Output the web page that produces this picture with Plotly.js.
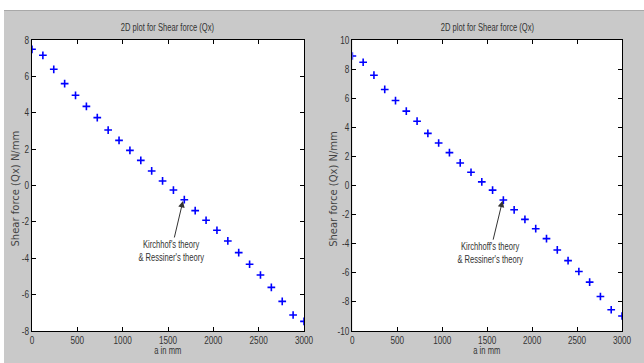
<!DOCTYPE html>
<html>
<head>
<meta charset="utf-8">
<script src="https://cdn.plot.ly/plotly-3.0.1.min.js"></script>
<style>
  html, body { margin:0; padding:0; background:#ffffff; width:644px; height:363px; overflow:hidden; }
  #frame { position:absolute; left:4px; top:10px; width:640px; height:353px; border-top:1px solid #a8a8a8; background:#c9c9c9; }
  #chart { position:absolute; left:0; top:0; width:640px; height:352px; }
</style>
</head>
<body>
<div id="frame"><div id="chart"></div></div>
<script>
// Data
const aMM = [0,120,240,360,480,600,720,840,960,1080,1200,1320,1440,1560,1680,1800,1920,2040,2160,2280,2400,2520,2640,2760,2880,3000];
const qxLeft = [7.49,7.16,6.39,5.60,4.96,4.35,3.73,3.05,2.48,1.93,1.38,0.80,0.25,-0.25,-0.78,-1.38,-1.91,-2.46,-3.05,-3.69,-4.33,-4.92,-5.60,-6.37,-7.12,-7.47];
const qxRight = [8.90,8.47,7.58,6.60,5.84,5.11,4.42,3.58,2.92,2.26,1.55,0.91,0.25,-0.32,-1.00,-1.67,-2.33,-2.97,-3.65,-4.43,-5.16,-5.91,-6.64,-7.63,-8.54,-8.97];
const xTicks = [0,500,1000,1500,2000,2500,3000];
const yTicksLeft = [-8,-6,-4,-2,0,2,4,6,8];
const yTicksRight = [-10,-8,-6,-4,-2,0,2,4,6,8,10];
const plotTitle = "2D plot for Shear force (Qx)";
const xTitle = "a in mm";
const yTitle = "Shear force (Qx) N/mm";
const noteLeft = "Kirchhof's theory<br>& Ressiner's theory";
const noteRight = "Kirchhoff's theory<br>& Ressiner's theory";

const base = "'Liberation Sans', Arial, sans-serif";
const wide = "'DejaVu Sans', 'Liberation Sans', sans-serif";
const txtColor = '#333';

const marker = {symbol:'cross-thin', size:5.5, color:'#0000ff', line:{width:1.6, color:'#0000ff'}};

const traces = [
  {x:aMM, y:qxLeft, type:'scatter', mode:'markers', marker:marker, xaxis:'x', yaxis:'y', hoverinfo:'skip'},
  {x:aMM, y:qxRight, type:'scatter', mode:'markers', marker:marker, xaxis:'x2', yaxis:'y2', hoverinfo:'skip'}
];

function xax(domain, anchor){
  return {domain:domain, anchor:anchor, range:[0,3000], tickvals:xTicks, ticktext:xTicks.map(String),
    showgrid:false, zeroline:false, showline:true, linecolor:'#000', linewidth:1, mirror:'ticks',
    ticks:'inside', ticklen:4, tickcolor:'#000',
    tickfont:{family:base, size:10, color:txtColor}};
}
function yax(range, ticks, anchor){
  return {domain:[0,1], anchor:anchor, range:range, tickvals:ticks, ticktext:ticks.map(String),
    showgrid:false, zeroline:false, showline:true, linecolor:'#000', linewidth:1, mirror:'ticks',
    ticks:'inside', ticklen:4, tickcolor:'#000',
    tickfont:{family:base, size:10, color:txtColor}};
}

const annFont = {family:base, size:10, color:txtColor};
const layout = {
  width:640, height:352,
  margin:{l:28, r:22, t:29, b:32},
  paper_bgcolor:'#c9c9c9', plot_bgcolor:'#ffffff',
  showlegend:false,
  font:{family:base, size:10, color:txtColor},
  xaxis: xax([0,0.461],'y'),
  yaxis: yax([-8,8], yTicksLeft, 'x'),
  xaxis2: xax([0.543,1],'y2'),
  yaxis2: yax([-10,10], yTicksRight, 'x2'),
  annotations:[
    {xref:'x domain', yref:'paper', x:0.5, y:1, yshift:5, yanchor:'bottom', showarrow:false, text:plotTitle, font:annFont},
    {xref:'x2 domain', yref:'paper', x:0.5, y:1, yshift:5, yanchor:'bottom', showarrow:false, text:plotTitle, font:annFont},
    {xref:'x domain', yref:'y domain', x:0.5, y:0, yshift:-19, yanchor:'middle', showarrow:false, text:xTitle, font:annFont},
    {xref:'x2 domain', yref:'y2 domain', x:0.5, y:0, yshift:-19, yanchor:'middle', showarrow:false, text:xTitle, font:annFont},
    {xref:'x domain', yref:'y domain', x:0, xshift:-17, y:0.5, yshift:-3, xanchor:'center', yanchor:'middle', textangle:-90, showarrow:false, text:yTitle, font:{family:wide, size:10, color:'#444'}},
    {xref:'x2 domain', yref:'y2 domain', x:0, xshift:-19, y:0.5, yshift:-3, xanchor:'center', yanchor:'middle', textangle:-90, showarrow:false, text:yTitle, font:{family:wide, size:10, color:'#444'}},
    {xref:'x', yref:'y', axref:'x', ayref:'y', x:1665, y:-0.85, ax:1535, ay:-3.6, text:noteLeft, font:annFont,
      showarrow:true, arrowhead:2, arrowsize:1.3, arrowwidth:1, arrowcolor:'#333'},
    {xref:'x2', yref:'y2', axref:'x2', ayref:'y2', x:1671, y:-1.05, ax:1530, ay:-4.65, text:noteRight, font:annFont,
      showarrow:true, arrowhead:2, arrowsize:1.3, arrowwidth:1, arrowcolor:'#333'}
  ]
};

// Horizontally condense text (reference uses a narrow face)
function squeeze(el, s){
  const x = parseFloat(el.getAttribute('x')) || 0;
  const t = el.getAttribute('transform') || '';
  el.setAttribute('transform', t + ' translate(' + x + ',0) scale(' + s + ',1) translate(' + (-x) + ',0)');
}

Plotly.newPlot('chart', traces, layout, {staticPlot:true, displayModeBar:false}).then(function(gd){
  gd.querySelectorAll('.xtick text, .ytick text, .x2tick text, .y2tick text').forEach(function(el){ squeeze(el, 0.82); });
  gd.querySelectorAll('.annotation-text').forEach(function(el){
    if (el.textContent.indexOf('N/mm') >= 0) return;
    squeeze(el, 0.76);
  });
});
</script>
</body>
</html>
